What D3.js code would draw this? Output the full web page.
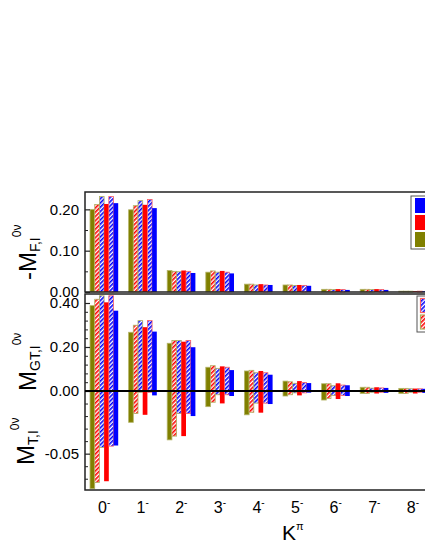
<!DOCTYPE html>
<html>
<head>
<meta charset="utf-8">
<script src="https://cdn.jsdelivr.net/npm/d3@7"></script>
<style>
  body { margin: 0; background: #fff; }
  svg { font-family: "Liberation Sans", Arial, sans-serif; }
</style>
</head>
<body>
<svg width="425" height="550"></svg>
<script>
var svg = d3.select('svg');

// K^pi multipoles
var categories = ["0", "1", "2", "3", "4", "5", "6", "7", "8"];
// six bars per group, left to right
var seriesNames = ["s1", "s2", "s3", "s4", "s5", "s6"];

// -M_F (upper panel)
var fermi = [
    [0.200, 0.212, 0.231, 0.213, 0.231, 0.215],
    [0.199, 0.209, 0.221, 0.211, 0.224, 0.203],
    [0.052, 0.050, 0.049, 0.052, 0.050, 0.046],
    [0.048, 0.051, 0.048, 0.051, 0.048, 0.045],
    [0.019, 0.019, 0.017, 0.019, 0.017, 0.017],
    [0.017, 0.017, 0.016, 0.017, 0.016, 0.015],
    [0.0065, 0.0065, 0.006, 0.007, 0.006, 0.005],
    [0.0065, 0.0065, 0.006, 0.007, 0.006, 0.005],
    [0.002, 0.002, 0.002, 0.002, 0.002, 0.002]
];
// M_GT (lower panel, above zero)
var gamowTeller = [
    [0.388, 0.417, 0.433, 0.403, 0.433, 0.365],
    [0.267, 0.299, 0.320, 0.290, 0.320, 0.270],
    [0.217, 0.230, 0.230, 0.224, 0.230, 0.199],
    [0.108, 0.115, 0.103, 0.112, 0.108, 0.095],
    [0.091, 0.094, 0.083, 0.091, 0.083, 0.074],
    [0.045, 0.042, 0.035, 0.045, 0.039, 0.036],
    [0.033, 0.033, 0.024, 0.035, 0.027, 0.026],
    [0.017, 0.017, 0.013, 0.017, 0.014, 0.014],
    [0.012, 0.012, 0.010, 0.011, 0.010, 0.010]
];
// M_T (lower panel, below zero)
var tensor = [
    [-0.078, -0.073, -0.045, -0.072, -0.044, -0.0435],
    [-0.025, -0.018, -0.001, -0.019, -0.001, -0.0035],
    [-0.039, -0.036, -0.018, -0.036, -0.018, -0.020],
    [-0.0125, -0.009, -0.003, -0.0099, -0.003, -0.004],
    [-0.019, -0.017, -0.0097, -0.0173, -0.0097, -0.0104],
    [-0.004, -0.003, -0.0015, -0.0035, -0.0015, -0.0013],
    [-0.0072, -0.006, -0.0035, -0.0064, -0.0035, -0.004],
    [-0.002, -0.002, -0.001, -0.002, -0.001, -0.0015],
    [-0.002, -0.002, -0.001, -0.002, -0.001, -0.0015]
];

var fTicks = [0, 0.1, 0.2], fMinor = [0.05, 0.15];
var gtTicks = [0, 0.2, 0.4], gtMinor = [0.04, 0.08, 0.12, 0.16, 0.24, 0.28, 0.32, 0.36];
var tTicks = [-0.05], tMinor = [-0.01, -0.02, -0.03, -0.04, -0.06, -0.07];

var left = 85, right = 432;
var fTop = 192, fBottom = 292, lowTop = 294, zeroY = 391, lowBottom = 490;

// hatch patterns
var defs = svg.append("defs");
[["hatchRed", "#ff0000"], ["hatchBlue", "#0000ff"]].forEach(function (p) {
    var pat = defs.append("pattern").attr("id", p[0])
        .attr("width", 3).attr("height", 3)
        .attr("patternUnits", "userSpaceOnUse")
        .attr("patternTransform", "rotate(45)");
    pat.append("rect").attr("width", 3).attr("height", 3).attr("fill", "white");
    pat.append("rect").attr("width", 1.6).attr("height", 3).attr("fill", p[1]);
});

var fills = ["#808000", "url(#hatchRed)", "url(#hatchBlue)", "#ff0000", "url(#hatchBlue)", "#0000ff"];
var strokes = ["#b4b468", "#b0b060", "#b0b060", "none", "#ff6060", "none"];

var x = d3.scaleBand().domain(categories).range([left, right])
    .paddingInner(0.27).paddingOuter(0.13);
var xs = d3.scaleBand().domain(d3.range(seriesNames.length)).range([0, x.bandwidth()]);

var yF = d3.scaleLinear().domain([0, 0.242]).range([fBottom, fTop]);
var yGT = d3.scaleLinear().domain([0, 0.4]).range([zeroY, 303]);
var yT = d3.scaleLinear().domain([-0.079, 0]).range([lowBottom, zeroY]);

function drawBars(data, y, cls) {
    var groups = svg.append("g").selectAll("g." + cls)
        .data(data)
        .enter()
        .append("g")
        .attr("class", cls)
        .attr("transform", function (d, i) { return "translate(" + x(categories[i]) + ",0)"; });
    groups.selectAll("rect")
        .data(function (d) { return d; })
        .enter()
        .append("rect")
        .attr("x", function (d, j) { return xs(j); })
        .attr("width", xs.bandwidth())
        .attr("y", function (d) { return Math.min(y(d), y(0)); })
        .attr("height", function (d) { return Math.abs(y(d) - y(0)); })
        .attr("fill", function (d, j) { return fills[j]; })
        .attr("stroke", function (d, j) { return strokes[j]; })
        .attr("stroke-width", 0.8);
}

drawBars(fermi, yF, "fermi");
drawBars(gamowTeller, yGT, "gt");
drawBars(tensor, yT, "tensor");

// y axes, ticks pointing inward
function yAxis(scale, major, minor) {
    var fmt = function (d) { return d.toFixed(2); };
    svg.append("g").attr("transform", "translate(" + left + ",0)")
        .call(d3.axisLeft(scale).tickValues(major).tickFormat(fmt).tickSize(-5).tickPadding(6))
        .call(function (g) { g.select(".domain").remove(); })
        .call(function (g) {
            g.selectAll("text").attr("font-size", 15).attr("font-family", "Liberation Sans, Arial, sans-serif").attr("fill", "#000");
            g.selectAll("line").attr("stroke", "#222").attr("stroke-width", 1.2);
        });
    svg.append("g").attr("transform", "translate(" + left + ",0)")
        .call(d3.axisLeft(scale).tickValues(minor).tickFormat("").tickSize(-3))
        .call(function (g) { g.select(".domain").remove(); })
        .call(function (g) { g.selectAll("line").attr("stroke", "#222").attr("stroke-width", 1); });
}
yAxis(yF, fTicks, fMinor);
yAxis(yGT, gtTicks, gtMinor);
yAxis(yT, tTicks, tMinor);

// frames
var frame = svg.append("g").attr("stroke", "#222").attr("stroke-width", 1.5).attr("fill", "none");
frame.append("path").attr("d", "M" + right + "," + fTop + "H" + left + "V" + fBottom + "H" + right);
frame.append("path").attr("d", "M" + right + "," + lowTop + "H" + left + "V" + lowBottom + "H" + right);
svg.append("line").attr("x1", left).attr("x2", right)
    .attr("y1", yT(0)).attr("y2", yT(0))
    .attr("stroke", "#000").attr("stroke-width", 2);

// x tick labels
var xl = svg.append("g").selectAll("text")
    .data(categories)
    .enter()
    .append("text")
    .attr("x", function (d) { return x(d) + x.bandwidth() / 2; })
    .attr("y", 513)
    .attr("text-anchor", "middle")
    .attr("font-size", 16);
xl.append("tspan").text(function (d) { return d; });
xl.append("tspan").attr("font-size", 10).attr("dy", -7).text("-");

// x title
var kt = svg.append("text").attr("x", 282).attr("y", 540).attr("font-size", 21);
kt.append("tspan").text("K");
kt.append("tspan").attr("font-size", 11).attr("dy", -10).text("π");

// y titles
function yTitle(x0, y0, main, sub) {
    var t = svg.append("text")
        .attr("transform", "translate(" + x0 + "," + y0 + ") rotate(-90)")
        .attr("font-size", 24);
    t.append("tspan").text(main);
    t.append("tspan").attr("font-size", 14).attr("dy", 4).text(sub);
    t.append("tspan").attr("font-size", 12).attr("dy", -19).text("0ν");
}
yTitle(36, 280, "-M", "F,I");
yTitle(36, 391, "M", "GT,I");
yTitle(34, 465, "M", "T,I");

// legends (cropped at the right edge)
var leg1 = svg.append("g");
leg1.append("rect").attr("x", 411).attr("y", 196).attr("width", 60).attr("height", 53)
    .attr("fill", "white").attr("stroke", "#555").attr("stroke-width", 1);
leg1.selectAll("rect.sw")
    .data([5, 3, 0])
    .enter()
    .append("rect")
    .attr("class", "sw")
    .attr("x", 415)
    .attr("y", function (d, i) { return 198 + i * 17; })
    .attr("width", 20).attr("height", 15)
    .attr("fill", function (d) { return fills[d]; });

var leg2 = svg.append("g");
leg2.append("rect").attr("x", 417).attr("y", 296).attr("width", 60).attr("height", 36)
    .attr("fill", "white").attr("stroke", "#555").attr("stroke-width", 1);
leg2.selectAll("rect.sw")
    .data([4, 1])
    .enter()
    .append("rect")
    .attr("class", "sw")
    .attr("x", 420.5)
    .attr("y", function (d, i) { return 298.5 + i * 16.5; })
    .attr("width", 20).attr("height", 14)
    .attr("fill", function (d) { return fills[d]; })
    .attr("stroke", function (d) { return strokes[d]; })
    .attr("stroke-width", 1.2);
</script>
</body>
</html>
